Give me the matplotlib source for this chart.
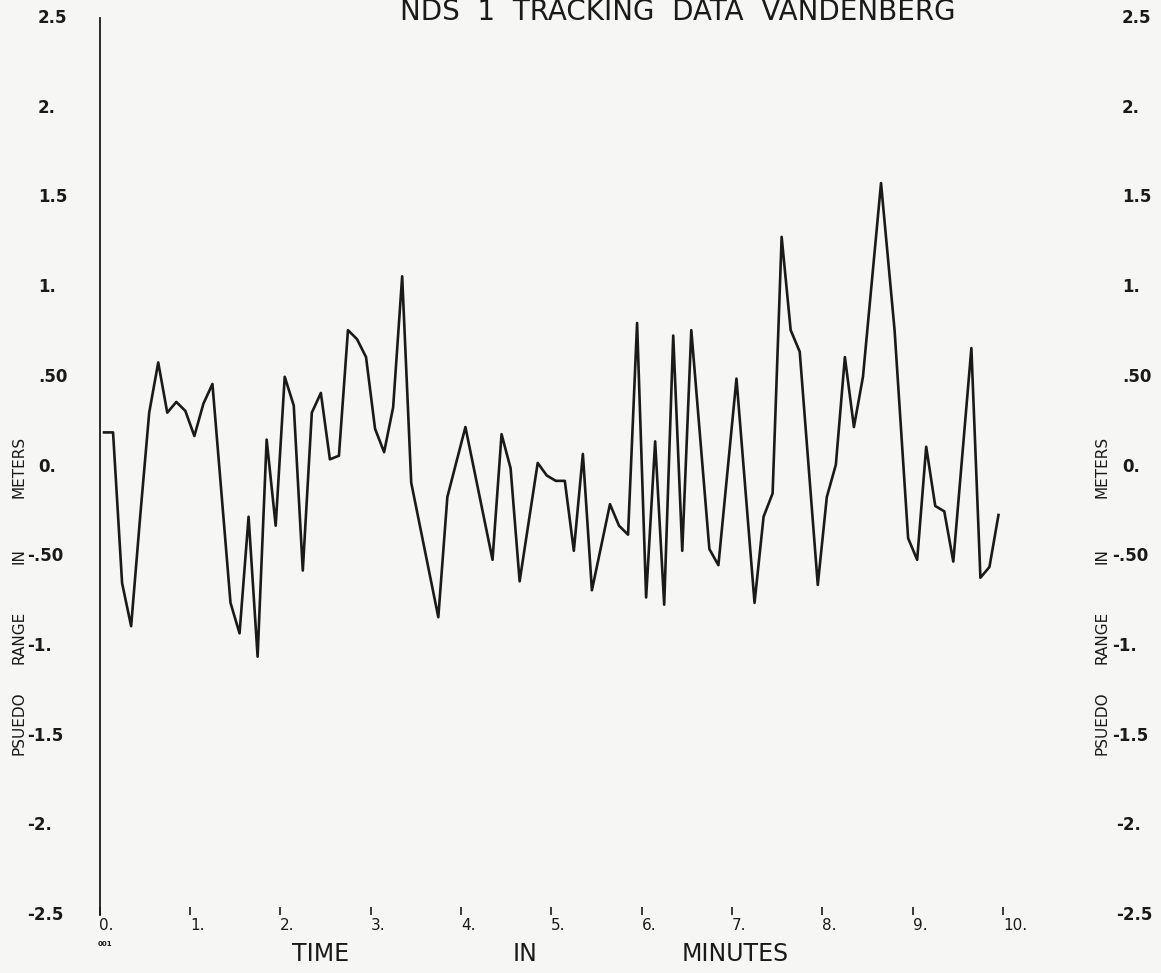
import numpy as np
import matplotlib.pyplot as plt
from matplotlib.transforms import blended_transform_factory

# time in minutes and pseudo range residual in meters (vertices)
time_min = [0.05, 0.15, 0.25, 0.35, 0.45, 0.55, 0.65, 0.75, 0.85, 0.95,
            1.05, 1.15, 1.25, 1.45, 1.55, 1.65, 1.75, 1.85, 1.95, 2.05,
            2.15, 2.25, 2.35, 2.45, 2.55, 2.65, 2.75, 2.85, 2.95, 3.05,
            3.15, 3.25, 3.35, 3.45, 3.75, 3.85, 4.05, 4.35, 4.45, 4.55,
            4.65, 4.85, 4.95, 5.05, 5.15, 5.25, 5.35, 5.45, 5.65, 5.75,
            5.85, 5.95, 6.05, 6.15, 6.25, 6.35, 6.45, 6.55, 6.75, 6.85,
            7.05, 7.25, 7.35, 7.45, 7.55, 7.65, 7.75, 7.95, 8.05, 8.15,
            8.25, 8.35, 8.45, 8.65, 8.80, 8.95, 9.05, 9.15, 9.25, 9.35,
            9.45, 9.65, 9.75, 9.85, 9.95]
range_m = [0.19, 0.19, -0.65, -0.89, -0.28, 0.30, 0.58, 0.30, 0.36, 0.31,
           0.17, 0.35, 0.46, -0.76, -0.93, -0.28, -1.06, 0.15, -0.33, 0.50,
           0.34, -0.58, 0.30, 0.41, 0.04, 0.06, 0.76, 0.71, 0.61, 0.21,
           0.08, 0.33, 1.06, -0.09, -0.84, -0.17, 0.22, -0.52, 0.18, -0.01,
           -0.64, 0.02, -0.05, -0.08, -0.08, -0.47, 0.07, -0.69, -0.21, -0.33,
           -0.38, 0.80, -0.73, 0.14, -0.77, 0.73, -0.47, 0.76, -0.46, -0.55,
           0.49, -0.76, -0.28, -0.15, 1.28, 0.76, 0.64, -0.66, -0.17, 0.01,
           0.61, 0.22, 0.50, 1.58, 0.76, -0.40, -0.52, 0.11, -0.22, -0.25,
           -0.53, 0.66, -0.62, -0.56, -0.27]

yticks = [2.5, 2.0, 1.5, 1.0, 0.5, 0.0, -0.5, -1.0, -1.5, -2.0, -2.5]
ytick_labels = ["2.5", "2.", "1.5", "1.", ".50", "0.", "-.50", "-1.", "-1.5", "-2.", "-2.5"]
xticks = [0, 1, 2, 3, 4, 5, 6, 7, 8, 9, 10]
xtick_labels = ["0.", "1.", "2.", "3.", "4.", "5.", "6.", "7.", "8.", "9.", "10."]

W, H = 1161, 973
paper = "#f6f6f4"
ink = "#1a1a1a"

fig = plt.figure(figsize=(W / 100, H / 100), dpi=100, facecolor=paper)
# axes box in pixels: x 99.5..1003, y 18..915 (from top)
ax = fig.add_axes([99.5 / W, (H - 915) / H, (1003 - 99.5) / W, (915 - 18) / H])
ax.set_facecolor(paper)

ax.plot(time_min, range_m, color=ink, lw=1.9)

ax.set_xlim(0, 10)
ax.set_ylim(-2.5, 2.5)

for s in ["top", "right", "bottom"]:
    ax.spines[s].set_visible(False)
ax.spines["left"].set_color(ink)
ax.spines["left"].set_linewidth(1.3)

ax.set_xticks(xticks)
ax.set_xticklabels(xtick_labels, ha="left", fontsize=11, color=ink)
ax.tick_params(axis="x", direction="in", length=6, width=1.2, color=ink, pad=2)
ax.set_yticks([])

# y labels on both sides
tr = blended_transform_factory(fig.transFigure, ax.transData)
for v, lab in zip(yticks, ytick_labels):
    xl = 27 if v < 0 else 38
    ax.text(xl / W, v, lab, transform=tr, ha="left", va="center",
            fontsize=12, fontweight="bold", color=ink)
    xr = 1112 if -1.5 <= v < 0 else (1116 if v < 0 else 1122)
    ax.text(xr / W, v, lab, transform=tr, ha="left", va="center",
            fontsize=12, fontweight="bold", color=ink)

# rotated axis titles, word by word
for word, yv in [("METERS", 0.0), ("IN", -0.5), ("RANGE", -0.95), ("PSUEDO", -1.43)]:
    ax.text(19 / W, yv, word, transform=tr, rotation=90, ha="center", va="center",
            fontsize=11, color=ink)
    ax.text(1102 / W, yv, word, transform=tr, rotation=90, ha="center", va="center",
            fontsize=11, color=ink)

# x axis title
for word, xp in [("TIME", 321), ("IN", 525), ("MINUTES", 735)]:
    fig.text(xp / W, (H - 954) / H, word, ha="center", va="center",
             fontsize=17, color=ink)

fig.text(105 / W, (H - 944) / H, "001", ha="center", va="center",
         fontsize=5, fontweight="bold", color=ink)

# title (sits right at the top edge, as in the scan)
fig.text(678 / W, (H - 20) / H, "NDS  1  TRACKING  DATA  VANDENBERG",
         ha="center", va="baseline", fontsize=20, color=ink)

fig.savefig("out.png", dpi=100, facecolor=paper)
